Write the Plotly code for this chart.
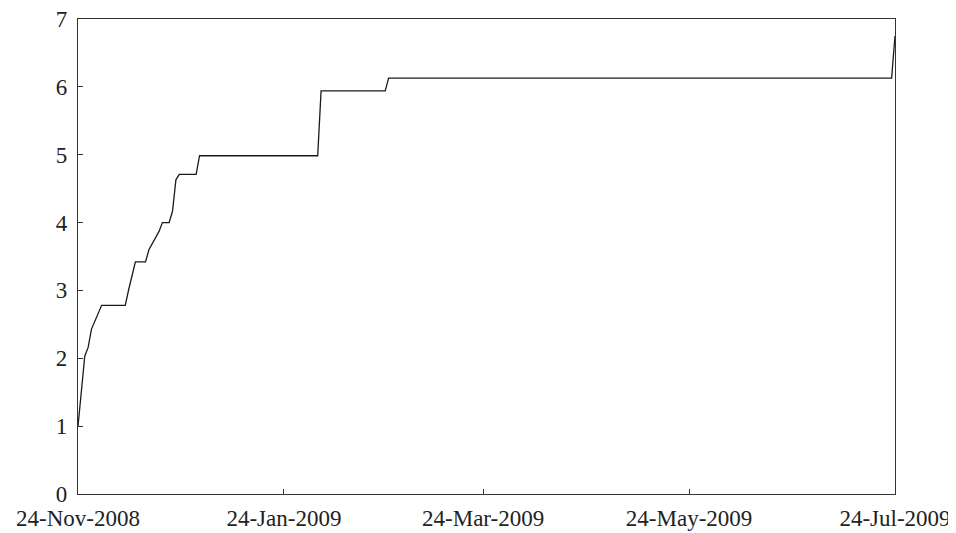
import plotly.graph_objects as go

dates = ["2008-11-24", "2008-11-26", "2008-11-27", "2008-11-28", "2008-12-01",
         "2008-12-08", "2008-12-09", "2008-12-11", "2008-12-14", "2008-12-15",
         "2008-12-18", "2008-12-19", "2008-12-21", "2008-12-22", "2008-12-23",
         "2008-12-24", "2008-12-29", "2008-12-30", "2009-02-03", "2009-02-04",
         "2009-02-23", "2009-02-24", "2009-07-23", "2009-07-24"]
values = [1.00, 2.03, 2.16, 2.43, 2.78,
          2.78, 3.01, 3.42, 3.42, 3.60,
          3.87, 4.00, 4.00, 4.17, 4.63,
          4.71, 4.71, 4.985, 4.985, 5.94,
          5.94, 6.13, 6.13, 6.75]

tick_dates = ["2008-11-24", "2009-01-24", "2009-03-24", "2009-05-24", "2009-07-24"]
tick_labels = ["24-Nov-2008", "24-Jan-2009", "24-Mar-2009", "24-May-2009", "24-Jul-2009"]

fig = go.Figure()
fig.add_trace(go.Scatter(x=dates, y=values, mode="lines",
                         line=dict(color="#1a1a1a", width=1.3),
                         showlegend=False, hoverinfo="skip"))

font = dict(family="Liberation Serif", size=23, color="#222")
fig.update_layout(
    width=948, height=525,
    margin=dict(l=70, r=61, t=11, b=39, autoexpand=False),
    paper_bgcolor="white", plot_bgcolor="white",
    font=font,
    xaxis=dict(range=["2008-11-24", "2009-07-24"], tickvals=tick_dates, ticktext=tick_labels,
               ticks="inside", ticklen=5, tickcolor="#333", tickwidth=1,
               showline=True, linecolor="#333", linewidth=1.3, mirror=True,
               showgrid=False, zeroline=False, tickfont=font,
               automargin=False, ticklabelstandoff=3, ticklabeloverflow="allow"),
    yaxis=dict(range=[0, 7], dtick=1, tick0=0,
               ticks="inside", ticklen=5, tickcolor="#333", tickwidth=1,
               showline=True, linecolor="#333", linewidth=1.3, mirror=True,
               showgrid=False, zeroline=False, tickfont=font,
               automargin=False, ticklabelstandoff=5, ticklabeloverflow="allow"),
)
fig.write_html("out.html")
